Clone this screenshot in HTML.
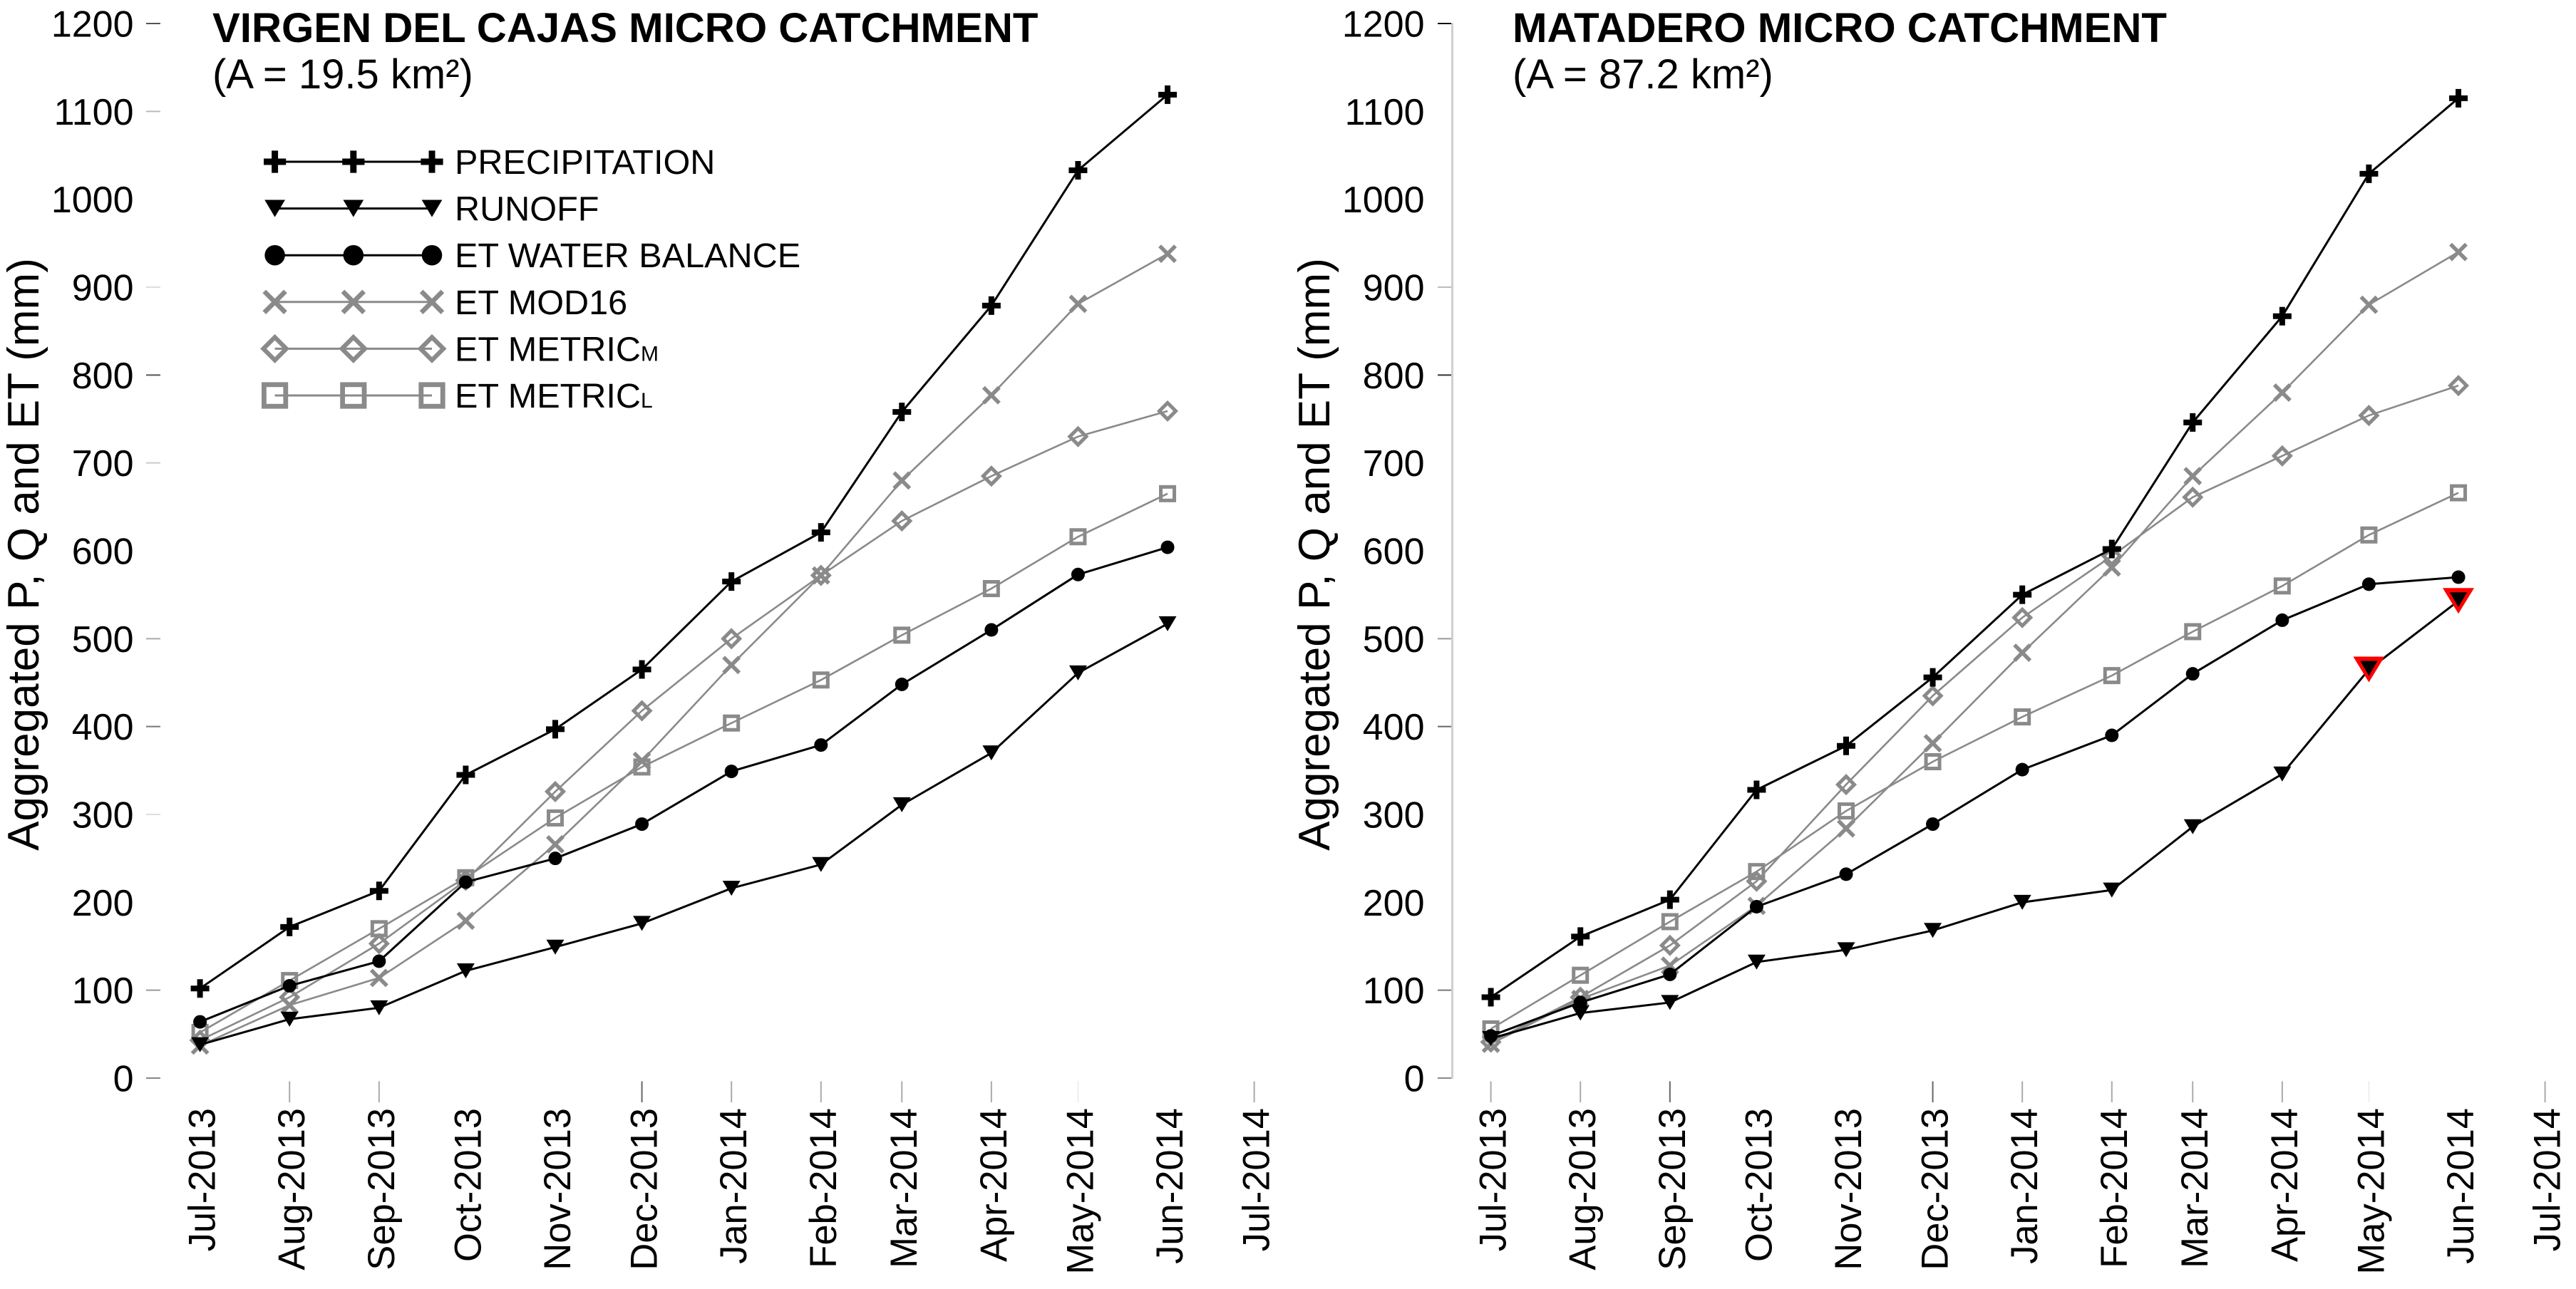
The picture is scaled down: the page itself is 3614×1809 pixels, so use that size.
<!DOCTYPE html>
<html lang="en">
<head>
<meta charset="utf-8">
<title>Aggregated P, Q and ET micro catchments</title>
<style>
html,body{margin:0;padding:0;background:#fff;}
svg{display:block;}
text{font-family:"Liberation Sans",sans-serif;fill:#000;}
</style>
</head>
<body>
<svg id="chart" xmlns="http://www.w3.org/2000/svg" width="3614" height="1809" viewBox="0 0 3614 1809">
  <rect width="3614" height="1809" fill="#fff"/>
  <text x="298" y="59" font-size="58.2" font-weight="bold">VIRGEN DEL CAJAS MICRO CATCHMENT</text>
  <text x="298" y="124" font-size="58">(A = 19.5 km²)</text>
  <text x="2122" y="59" font-size="58.2" font-weight="bold">MATADERO MICRO CATCHMENT</text>
  <text x="2122" y="124" font-size="58">(A = 87.2 km²)</text>
  <text transform="translate(54,778) rotate(-90)" text-anchor="middle" font-size="62">Aggregated P, Q and ET (mm)</text>
  <text transform="translate(1865,778) rotate(-90)" text-anchor="middle" font-size="62">Aggregated P, Q and ET (mm)</text>
  <line x1="2037.5" x2="2037.5" y1="32" y2="1514" stroke="#cfcfcf" stroke-width="3"/>
</svg>
<script>
// ---- chart data ----
const monthDates = ['2013-07-01','2013-08-01','2013-09-01','2013-10-01','2013-11-01','2013-12-01','2014-01-01','2014-02-01','2014-03-01','2014-04-01','2014-05-01','2014-06-01'];
const xTickDates = ['2013-07-01','2013-08-01','2013-09-01','2013-10-01','2013-11-01','2013-12-01','2014-01-01','2014-02-01','2014-03-01','2014-04-01','2014-05-01','2014-06-01','2014-07-01'];
const xTickLabels = ['Jul-2013','Aug-2013','Sep-2013','Oct-2013','Nov-2013','Dec-2013','Jan-2014','Feb-2014','Mar-2014','Apr-2014','May-2014','Jun-2014','Jul-2014'];
const yTickValues = [0,100,200,300,400,500,600,700,800,900,1000,1100,1200];

const cajasPrecip = [102,172,213,345,397,465,565,621,758,879,1033,1119];
const cajasRunoff = [38,67,80,122,149,176,216,243,311,370,461,517];
const cajasEtBalance = [64,105,133,223,250,289,349,379,448,510,573,604];
const cajasEtMod16 = [37,83,114,179,266,361,470,572,680,777,881,938];
const cajasEtMetricM = [43,92,153,225,326,418,500,572,634,685,730,759];
const cajasEtMetricL = [52,111,170,228,296,354,404,453,504,557,616,665];

const mataderoPrecip = [92,161,203,328,378,456,550,602,746,867,1029,1115];
const mataderoRunoff = [45,74,86,132,146,168,200,214,286,346,465,543];
const mataderoEtBalance = [48,86,118,195,232,289,351,390,460,521,562,570];
const mataderoEtMod16 = [39,90,128,196,284,381,484,581,685,780,880,940];
const mataderoEtMetricM = [41,92,151,224,334,435,524,594,661,708,754,788];
const mataderoEtMetricL = [56,117,178,235,304,360,411,458,508,560,618,666];

const mataderoRunoffFlagged = ['2014-05-01','2014-06-01'];

const legendLabels = ['PRECIPITATION','RUNOFF','ET WATER BALANCE','ET MOD16','ET METRIC','ET METRIC'];
const legendSubscripts = ['','','','','M','L'];

// ---- rendering ----
const svg = document.getElementById('chart');
const NS = 'http://www.w3.org/2000/svg';
const Y0 = 1513, YSCALE = 1480 / 1200, X_PER_DAY = 1479 / 365;
const GRAY = '#8a8a8a';
const epoch = Date.parse(monthDates[0]);

function dayOf(d) { return (Date.parse(d) - epoch) / 864e5; }
function yPos(v) { return Y0 - v * YSCALE; }
function xPos(panel, d) { return panel.x0 + dayOf(d) * X_PER_DAY; }

function mk(tag, attrs, parent) {
  const e = document.createElementNS(NS, tag);
  for (const k in attrs) e.setAttribute(k, attrs[k]);
  parent.appendChild(e);
  return e;
}

// draws one marker centred on x,y; k scales it (legend markers are larger)
function marker(kind, x, y, k, parent) {
  let el;
  const sw = 1 + (k - 1) * 0.6;
  if (kind === 'plus') {
    const s = 13 * k;
    el = mk('path', {d:`M${x-s} ${y}H${x+s}M${x} ${y-s}V${y+s}`, stroke:'#000', 'stroke-width':8 * sw, fill:'none'}, parent);
  } else if (kind === 'tri') {
    const w = 12.5 * k, h = 10.5 * k;
    el = mk('polygon', {points:`${x-w},${y-h} ${x+w},${y-h} ${x},${y+h}`, fill:'#000'}, parent);
  } else if (kind === 'circle') {
    el = mk('circle', {cx:x, cy:y, r:9.5 * k, fill:'#000'}, parent);
  } else if (kind === 'x') {
    const s = 11 * k;
    el = mk('path', {d:`M${x-s} ${y-s}L${x+s} ${y+s}M${x-s} ${y+s}L${x+s} ${y-s}`, stroke:GRAY, 'stroke-width':5.5 * sw, fill:'none'}, parent);
  } else if (kind === 'diamond') {
    const s = 11.5 * k;
    el = mk('polygon', {points:`${x},${y-s} ${x+s},${y} ${x},${y+s} ${x-s},${y}`, stroke:GRAY, 'stroke-width':5 * sw, fill:'none'}, parent);
  } else {
    const s = 9.5 * k;
    el = mk('rect', {x:x-s, y:y-s, width:2*s, height:2*s, stroke:GRAY, 'stroke-width':5 * sw, fill:'none'}, parent);
  }
  return el;
}

const panels = [
  {
    id:'left', x0:280.6, tickX1:205, tickX2:225, labelRight:187.5,
    yShade:{0:'#888',100:'#999',300:'#ddd',400:'#777',500:'#aaa',700:'#ccc',800:'#555',900:'#ddd',1100:'#bbb',1200:'#555'},
    xShade:['none','#aaa','#aaa','none','none','#666','#aaa','#aaa','#aaa','#aaa','#eee','none','#aaa'],
    series:[
      {key:'et-metric-l', kind:'square', color:GRAY, width:2.6, values:cajasEtMetricL},
      {key:'et-metric-m', kind:'diamond', color:GRAY, width:2.6, values:cajasEtMetricM},
      {key:'et-mod16', kind:'x', color:GRAY, width:2.6, values:cajasEtMod16},
      {key:'et-water-balance', kind:'circle', color:'#000', width:3, values:cajasEtBalance},
      {key:'runoff', kind:'tri', color:'#000', width:3, values:cajasRunoff},
      {key:'precipitation', kind:'plus', color:'#000', width:3, values:cajasPrecip}
    ],
    flagged:[]
  },
  {
    id:'right', x0:2091.6, tickX1:2017, tickX2:2036, labelRight:1998.5,
    yShade:{0:'#888',100:'#777',400:'#666',500:'#999',800:'#333',900:'#bbb',1200:'#111'},
    xShade:['#aaa','#aaa','#666','none','none','#666','#aaa','#aaa','#aaa','#aaa','#eee','none','#aaa'],
    series:[
      {key:'et-metric-l', kind:'square', color:GRAY, width:2.6, values:mataderoEtMetricL},
      {key:'et-metric-m', kind:'diamond', color:GRAY, width:2.6, values:mataderoEtMetricM},
      {key:'et-mod16', kind:'x', color:GRAY, width:2.6, values:mataderoEtMod16},
      {key:'et-water-balance', kind:'circle', color:'#000', width:3, values:mataderoEtBalance},
      {key:'runoff', kind:'tri', color:'#000', width:3, values:mataderoRunoff},
      {key:'precipitation', kind:'plus', color:'#000', width:3, values:mataderoPrecip}
    ],
    flagged:mataderoRunoffFlagged
  }
];

panels.forEach(function (p) {
  const g = mk('g', {}, svg);
  
  

  yTickValues.forEach(function (v) {
    const t = mk('text', {x:p.labelRight, y:yPos(v) + 18.5, 'text-anchor':'end', 'font-size':52}, g);
    
    
    t.textContent = v;
    const shade = p.yShade[v];
    if (shade) {
      const l = mk('line', {x1:p.tickX1, x2:p.tickX2, y1:yPos(v), y2:yPos(v), stroke:shade, 'stroke-width':2}, g);
      
      
    }
  });

  xTickDates.forEach(function (d, i) {
    const x = xPos(p, d);
    if (p.xShade[i] !== 'none') {
      const l = mk('line', {x1:x, x2:x, y1:1517.5, y2:1547, stroke:p.xShade[i], 'stroke-width':2}, g);
      
      
    }
    const t = mk('text', {transform:`translate(${x + 21},1555) rotate(-90)`, 'text-anchor':'end', 'font-size':52.5}, g);
    
    
    t.textContent = xTickLabels[i];
  });

  p.series.forEach(function (s) {
    const sg = mk('g', {}, g);
    
    
    const pts = s.values.map(function (v, i) { return xPos(p, monthDates[i]) + ',' + yPos(v); }).join(' ');
    const line = mk('polyline', {points:pts, fill:'none', stroke:s.color, 'stroke-width':s.width}, sg);
    
    
    s.values.forEach(function (v, i) {
      const x = xPos(p, monthDates[i]), y = yPos(v);
      if (s.key === 'runoff' && p.flagged.indexOf(monthDates[i]) >= 0) {
        const red = mk('polygon', {points:`${x-22},${y-18} ${x+22},${y-18} ${x},${y+18}`, fill:'#f00'}, sg);
        
        
        const inner = mk('polygon', {points:`${x-12},${y-12} ${x+12},${y-12} ${x},${y+9}`, fill:'#000'}, sg);
        
        
      } else {
        const m = marker(s.kind, x, y, 1, sg);
        
        
      }
    });
  });
});

// legend (left panel only)
const legend = mk('g', {}, svg);


const legendKinds = ['plus','tri','circle','x','diamond','square'];
const legendColors = ['#000','#000','#000',GRAY,GRAY,GRAY];
const legendScale = [1.2,1.15,1.5,1.35,1.4,1.6];
legendLabels.forEach(function (label, i) {
  const y = 227 + i * 65.6;
  const row = mk('g', {}, legend);
  
  
  const l = mk('line', {x1:385.6, x2:606, y1:y, y2:y, stroke:legendColors[i], 'stroke-width':3}, row);
  
  
  [385.6, 495.8, 606].forEach(function (mx) {
    const m = marker(legendKinds[i], mx, y, legendScale[i], row);
    
    
  });
  const t = mk('text', {x:638, y:y + 17, 'font-size':48.6}, row);
  
  
  t.textContent = label;
  if (legendSubscripts[i]) {
    const sub = mk('tspan', {'font-size':30}, t);
    sub.textContent = legendSubscripts[i];
  }
});
</script>
</body>
</html>
